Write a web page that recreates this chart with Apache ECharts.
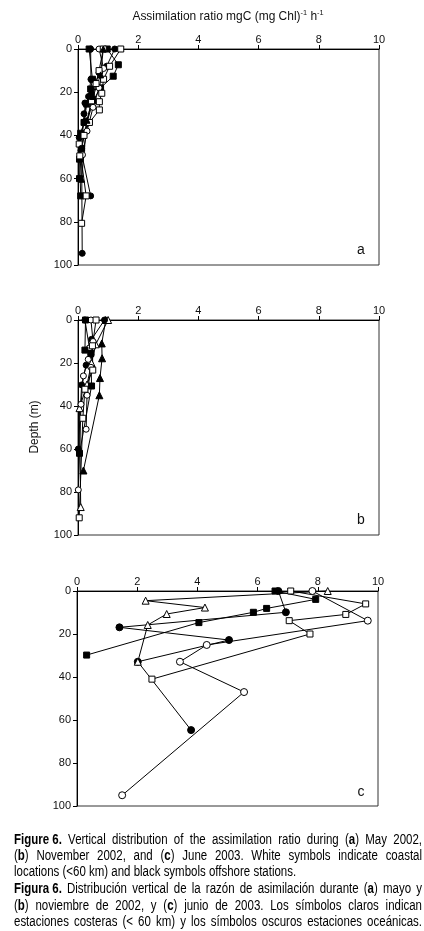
<!DOCTYPE html>
<html><head><meta charset="utf-8">
<script src="https://cdn.jsdelivr.net/npm/echarts@6/dist/echarts.min.js"></script>
<style>html,body{margin:0;padding:0;background:#fff}#c{width:424px;height:931px}</style>
</head><body><div id="c"></div><script>
// ---- tick values ----
const xTicks = [0, 2, 4, 6, 8, 10];
const yTicks = [0, 20, 40, 60, 80, 100];

// ---- panel a (May 2002): [assimilation ratio, depth] ----
const a_fsq1 = [[0.37,0],[0.48,14],[0.42,18.5],[0.29,25.5],[0.2,34],[0.09,39],[0.05,51],[0.09,68]];
const a_fsq2 = [[0.97,0],[1.34,7.3],[1.17,12.6],[0.75,18],[0.5,24],[0.3,34],[0.12,46],[0.05,60]];
const a_fci1 = [[1.22,0],[0.95,8],[0.7,11],[0.45,21],[0.23,25],[0.23,33.6],[0.04,41],[0.1,47],[0.42,68]];
const a_oci  = [[0.7,0],[0.85,9],[0.7,18],[0.5,27],[0.3,38],[0.15,49]];
const a_osq1 = [[1.42,0],[1.05,8],[0.85,14],[0.79,20.5],[0.71,24.4],[0.71,28.2],[0.38,34],[0.04,44],[0.27,68],[0.12,80.7]];
const a_osq2 = [[0.84,0],[0.7,10],[0.6,16],[0.45,24],[0.2,40],[0.06,49.5]];
const a_fci2 = [[0.42,0],[0.43,14],[0.35,22],[0.2,30],[0.12,46],[0.14,94.6]];
const a_ftr  = [[0.84,0],[0.75,12],[0.5,22],[0.3,33],[0.12,60.3]];

// ---- panel b (November 2002) ----
const b_ftr  = [[0.92,0],[0.79,10.9],[0.8,17.8],[0.73,27],[0.71,35],[0.18,70]];
const b_otr  = [[1.0,0],[0.59,11.3],[0.45,20],[0.3,30],[0.05,41],[0.09,87]];
const b_fci  = [[0.88,0],[0.45,9],[0.43,16],[0.27,21],[0.12,30.2],[0.01,60]];
const b_oci1 = [[0.23,0],[0.38,13],[0.34,18.3],[0.18,26],[0.1,39.2],[0.01,79]];
const b_oci2 = [[0.43,0],[0.5,10],[0.43,22],[0.3,35],[0.27,50.8]];
const b_osq  = [[0.6,0],[0.48,12],[0.49,23.3],[0.23,32.2],[0.16,45.7],[0.04,92]];
const b_fsq  = [[0.25,0],[0.23,14],[0.43,15.5],[0.45,30.7],[0.05,62]];

// ---- panel c (June 2003) ----
const c_fsq = [[6.58,0],[7.93,3.9],[6.3,8.1],[5.86,9.9],[4.05,14.7],[0.32,29.8]];
const c_fci = [[6.69,0],[6.94,9.9],[1.41,16.9],[5.05,22.8],[2.02,32.9],[3.79,64.7]];
const c_osq = [[7.1,0],[9.59,6],[8.93,10.9],[7.05,13.8],[7.74,20],[2.49,41]];
const c_oci = [[7.82,0],[9.66,13.8],[4.31,25.1],[3.42,32.9],[5.55,47],[1.5,95]];
const c_otr = [[8.33,0],[2.28,4.5],[4.25,7.7],[2.98,10.7],[2.35,15.8],[2.02,32.9]];

// ---- texts ----
const titleText = 'Assimilation ratio mgC (mg Chl){s|-1} h{s|-1}';
const yName = 'Depth (m)';
const panelLetters = ['a', 'b', 'c'];
const captionLines = [
  '{b|Figure 6.} Vertical distribution of the assimilation ratio during ({b|a}) May 2002,',
  '({b|b}) November 2002, and ({b|c}) June 2003. White symbols indicate coastal',
  'locations (<60 km) and black symbols offshore stations.',
  '{b|Figura 6.} Distribución vertical de la razón de asimilación durante ({b|a}) mayo y',
  '({b|b}) noviembre de 2002, y ({b|c}) junio de 2003. Los símbolos claros indican',
  'estaciones costeras (< 60 km) y los símbolos oscuros estaciones oceánicas.'
];
const captionJustify = [true, true, false, true, true, true];

// ---- layout ----
const FONT = "'Liberation Sans',Arial,sans-serif";
const NARROW = 0.82;
const grids = [
  {left: 78, top: 49, width: 301, height: 216},
  {left: 78, top: 320, width: 301, height: 215},
  {left: 77, top: 591, width: 301, height: 215}
];

const chart = echarts.init(document.getElementById('c'), null, {renderer: 'canvas'});

function mk(data, gi, shape, filled, size) {
  return {
    type: 'line', xAxisIndex: gi, yAxisIndex: gi, data: data,
    symbol: shape, symbolSize: size, showSymbol: true, showAllSymbol: true,
    lineStyle: {color: '#000', width: 1},
    itemStyle: {color: filled ? '#000' : '#fff', borderColor: '#000', borderWidth: 1},
    emphasis: {disabled: true}, silent: true, animation: false, clip: false
  };
}

const series = [
  mk(a_fsq1, 0, 'rect', true, 6), mk(a_fsq2, 0, 'rect', true, 6),
  mk(a_fci1, 0, 'circle', true, 6), mk(a_oci, 0, 'circle', false, 6),
  mk(a_osq1, 0, 'rect', false, 6), mk(a_osq2, 0, 'rect', false, 6),
  mk(a_fci2, 0, 'circle', true, 6), mk(a_ftr, 0, 'triangle', true, 6),
  mk(b_ftr, 1, 'triangle', true, 7), mk(b_otr, 1, 'triangle', false, 7),
  mk(b_fci, 1, 'circle', true, 6), mk(b_oci1, 1, 'circle', false, 6),
  mk(b_oci2, 1, 'circle', false, 6), mk(b_osq, 1, 'rect', false, 6),
  mk(b_fsq, 1, 'rect', true, 6),
  mk(c_fsq, 2, 'rect', true, 6), mk(c_osq, 2, 'rect', false, 6),
  mk(c_oci, 2, 'circle', false, 7), mk(c_fci, 2, 'circle', true, 7),
  mk(c_otr, 2, 'triangle', false, 7)
];

const axisFont = {fontFamily: FONT, fontSize: 11, color: '#111'};
const xAxes = grids.map((g, i) => ({
  type: 'value', gridIndex: i, position: 'top', min: xTicks[0], max: xTicks[xTicks.length - 1],
  interval: xTicks[1] - xTicks[0],
  axisLine: {show: true, lineStyle: {color: '#000', width: 1}},
  axisTick: {show: true, length: 4, lineStyle: {color: '#000'}},
  axisLabel: Object.assign({margin: 4}, axisFont),
  splitLine: {show: false}
}));
const yAxes = grids.map((g, i) => ({
  type: 'value', gridIndex: i, inverse: true, min: yTicks[0], max: yTicks[yTicks.length - 1],
  interval: yTicks[1] - yTicks[0],
  axisLine: {show: true, onZero: false, lineStyle: {color: '#000', width: 1}},
  axisTick: {show: true, length: 4, lineStyle: {color: '#000'}},
  axisLabel: Object.assign({margin: 6}, axisFont),
  splitLine: {show: false}
}));

// ---- caption with justification (narrow look via horizontal scaling) ----
const ctx = document.createElement('canvas').getContext('2d');
const CAP_SIZE = 14;
function segs(word) {
  const out = []; const re = /\{b\|([^}]*)\}/g; let last = 0, m;
  while ((m = re.exec(word))) {
    if (m.index > last) out.push({t: word.slice(last, m.index), b: false});
    out.push({t: m[1], b: true}); last = re.lastIndex;
  }
  if (last < word.length) out.push({t: word.slice(last), b: false});
  return out;
}
function wWidth(word) {
  return NARROW * segs(word).reduce((s, sg) => {
    ctx.font = (sg.b ? 'bold ' : '') + CAP_SIZE + 'px ' + FONT;
    return s + ctx.measureText(sg.t).width;
  }, 0);
}
const capLeft = 14, capRight = 422;
const capY = [840, 856, 872, 889, 906, 922];
const graphics = [];
captionLines.forEach((line, li) => {
  // keep spaces inside bold markup attached to their word
  const prepared = line.replace(/\{b\|[^}]*\}/g, m => m.replace(/ /g, '\u00a0'));
  const words = prepared.split(' ');
  const widths = words.map(wWidth);
  ctx.font = CAP_SIZE + 'px ' + FONT;
  const space = ctx.measureText(' ').width * NARROW;
  const total = widths.reduce((a, b) => a + b, 0);
  let gap = space;
  if (captionJustify[li] && words.length > 1) gap = (capRight - capLeft - total) / (words.length - 1);
  let x = capLeft;
  words.forEach((w, wi) => {
    graphics.push({
      type: 'text', x: x, y: capY[li], scaleX: NARROW, silent: true,
      style: {
        text: w, fontFamily: FONT, fontSize: CAP_SIZE, fill: '#000',
        textVerticalAlign: 'middle', verticalAlign: 'middle',
        rich: {b: {fontFamily: FONT, fontSize: CAP_SIZE, fontWeight: 'bold', fill: '#000'}}
      }
    });
    x += widths[wi] + gap;
  });
});

// title
graphics.push({
  type: 'text', x: 228, y: 16, scaleX: 0.92, silent: true,
  style: {
    text: titleText, fontFamily: FONT, fontSize: 13, fill: '#111',
    textAlign: 'center', align: 'center', textVerticalAlign: 'middle', verticalAlign: 'middle',
    rich: {s: {fontFamily: FONT, fontSize: 8, fill: '#111', verticalAlign: 'top', lineHeight: 14}}
  }
});
// y name
graphics.push({
  type: 'text', x: 34, y: 427, rotation: Math.PI / 2, scaleX: 0.92, silent: true,
  style: {text: yName, fontFamily: FONT, fontSize: 13, fill: '#111',
    textAlign: 'center', align: 'center', textVerticalAlign: 'middle', verticalAlign: 'middle'}
});
// panel letters
const letterY = [250, 520, 792];
panelLetters.forEach((l, i) => {
  graphics.push({
    type: 'text', x: 361, y: letterY[i], silent: true,
    style: {text: l, fontFamily: FONT, fontSize: 14, fill: '#111',
      textAlign: 'center', align: 'center', textVerticalAlign: 'middle', verticalAlign: 'middle'}
  });
});

chart.setOption({
  animation: false,
  backgroundColor: '#fff',
  grid: grids.map(g => Object.assign({show: true, borderColor: '#333', borderWidth: 1, backgroundColor: 'transparent', containLabel: false}, g)),
  xAxis: xAxes,
  yAxis: yAxes,
  series: series,
  graphic: {elements: graphics}
});
</script></body></html>
